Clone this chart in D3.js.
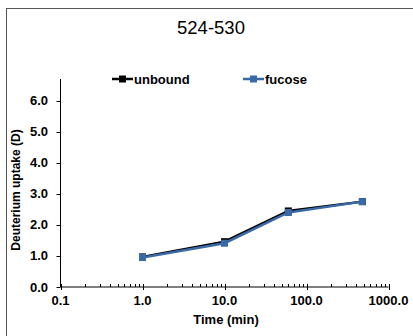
<!DOCTYPE html>
<html>
<head>
<meta charset="utf-8">
<script src="https://cdn.jsdelivr.net/npm/d3@7"></script>
<style>
  html, body { margin: 0; padding: 0; background: #fff; }
  svg { display: block; font-family: Arial, "Liberation Sans", sans-serif; }
</style>
</head>
<body>
<svg id="chart" width="413" height="336"></svg>
<script>
// Deuterium uptake time course for peptide 524-530
const title = "524-530";
const times = [1, 10, 60, 480];
const unbound = [0.97, 1.46, 2.45, 2.75];
const fucose = [0.95, 1.41, 2.40, 2.75];
const xTickValues = [0.1, 1, 10, 100, 1000];
const yTickValues = [0, 1, 2, 3, 4, 5, 6];
const seriesNames = ["unbound", "fucose"];
const seriesColors = ["#000000", "#3a6aa5"];

const svg = d3.select("#chart");

// outer frame
svg.append("rect")
  .attr("x", 6.5).attr("y", 8.5)
  .attr("width", 420).attr("height", 340)
  .attr("fill", "#fff").attr("stroke", "#555").attr("stroke-width", 1);

const x = d3.scaleLog().domain([0.1, 1000]).range([60.5, 388.5]);
const y = d3.scaleLinear().domain([0, 6.7]).range([287, 79]);

// title
svg.append("text")
  .attr("x", 211).attr("y", 34)
  .attr("text-anchor", "middle")
  .attr("font-size", 18.5)
  .text(title);

// x axis: major ticks crossing, minor ticks inside
const gx = svg.append("g");
gx.append("line")
  .attr("x1", x.range()[0]).attr("x2", x.range()[1])
  .attr("y1", y(0)).attr("y2", y(0))
  .attr("stroke", "#000").attr("stroke-width", 1);
const minor = [];
for (let d = 0.1; d < 1000; d *= 10) {
  for (let k = 2; k <= 9; k++) minor.push(+(d * k).toPrecision(3));
}
gx.selectAll(".minor").data(minor).join("line")
  .attr("x1", d => Math.round(x(d)) + 0.5).attr("x2", d => Math.round(x(d)) + 0.5)
  .attr("y1", y(0) - 3).attr("y2", y(0))
  .attr("stroke", "#000").attr("stroke-width", 1);
gx.selectAll(".major").data(xTickValues).join("line")
  .attr("x1", d => Math.round(x(d)) + 0.5).attr("x2", d => Math.round(x(d)) + 0.5)
  .attr("y1", y(0) - 3).attr("y2", y(0) + 3)
  .attr("stroke", "#000").attr("stroke-width", 1);
gx.selectAll(".lab").data(xTickValues).join("text")
  .attr("x", d => x(d)).attr("y", y(0) + 18)
  .attr("text-anchor", "middle")
  .attr("font-size", 13).attr("font-weight", "bold")
  .text(d => d3.format(".1f")(d));

// y axis
const gy = svg.append("g");
gy.append("line")
  .attr("x1", x.range()[0]).attr("x2", x.range()[0])
  .attr("y1", y.range()[1]).attr("y2", y(0))
  .attr("stroke", "#000").attr("stroke-width", 1);
gy.selectAll(".tick").data(yTickValues).join("line")
  .attr("x1", x.range()[0] - 4).attr("x2", x.range()[0])
  .attr("y1", d => Math.round(y(d)) + 0.5).attr("y2", d => Math.round(y(d)) + 0.5)
  .attr("stroke", "#000").attr("stroke-width", 1);
gy.selectAll(".lab").data(yTickValues).join("text")
  .attr("x", 48).attr("y", d => y(d) + 4.5)
  .attr("text-anchor", "end")
  .attr("font-size", 13).attr("font-weight", "bold")
  .text(d => d3.format(".1f")(d));

// axis titles
svg.append("text")
  .attr("x", 226).attr("y", 324)
  .attr("text-anchor", "middle")
  .attr("font-size", 13).attr("font-weight", "bold")
  .text("Time (min)");
svg.append("text")
  .attr("transform", "translate(20,190) rotate(-90)")
  .attr("text-anchor", "middle")
  .attr("font-size", 12).attr("font-weight", "bold")
  .text("Deuterium uptake (D)");

// series
const line = d3.line().x(d => x(d[0])).y(d => y(d[1]));
[unbound, fucose].forEach((vals, i) => {
  const pts = times.map((t, j) => [t, vals[j]]);
  const g = svg.append("g");
  g.append("path")
    .attr("d", line(pts))
    .attr("fill", "none")
    .attr("stroke", seriesColors[i])
    .attr("stroke-width", 2.5);
  g.selectAll("rect").data(pts).join("rect")
    .attr("x", d => x(d[0]) - 3.5).attr("y", d => y(d[1]) - 3.5)
    .attr("width", 7).attr("height", 7)
    .attr("fill", seriesColors[i]);
});

// legend
const legendX = [112, 243];
seriesNames.forEach((name, i) => {
  const g = svg.append("g").attr("transform", `translate(${legendX[i]},79)`);
  g.append("line")
    .attr("x1", 0).attr("x2", 21).attr("y1", 0).attr("y2", 0)
    .attr("stroke", seriesColors[i]).attr("stroke-width", 2.5);
  g.append("rect")
    .attr("x", 7).attr("y", -3.5).attr("width", 7).attr("height", 7)
    .attr("fill", seriesColors[i]);
  g.append("text")
    .attr("x", 22).attr("y", 4.5)
    .attr("font-size", 13).attr("font-weight", "bold")
    .text(name);
});
</script>
</body>
</html>
